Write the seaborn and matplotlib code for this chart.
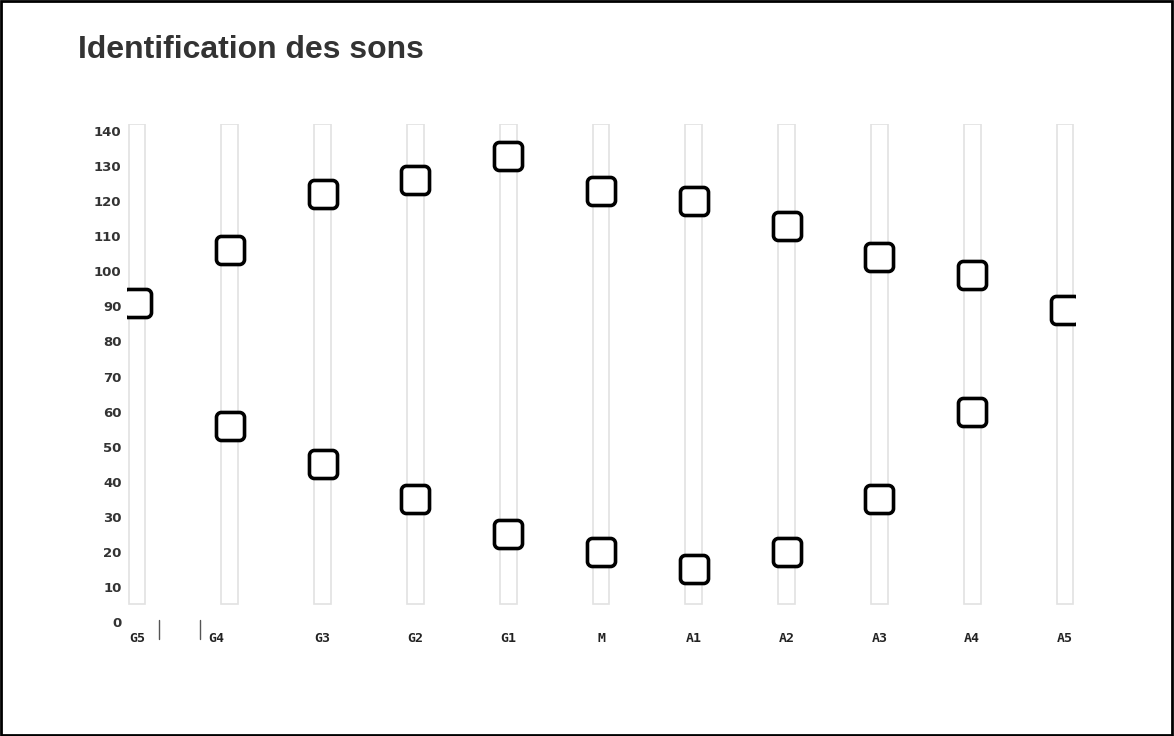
import numpy as np
import pandas as pd
import matplotlib
matplotlib.use("Agg")
import matplotlib.pyplot as plt
import seaborn as sns
from matplotlib.path import Path
from matplotlib.lines import Line2D
from matplotlib.patches import Rectangle
from matplotlib.transforms import ScaledTranslation

# data
categories = ['G5', 'G4', 'G3', 'G2', 'G1', 'M', 'A1', 'A2', 'A3', 'A4', 'A5']
upper = [91, 106, 122, 126, 133, 123, 120, 113, 104, 99, 89]
lower = [np.nan, 56, 45, 35, 25, 20, 15, 20, 35, 60, np.nan]
track_low = 5
track_high = 142
y_ticks = list(range(0, 141, 10))


def rounded_square(r=0.35):
    # square from -1..1 with rounded corners (cubic bezier)
    k = 0.5523 * r
    verts = [
        (-1 + r, -1), (1 - r, -1),
        (1 - r + k, -1), (1, -1 + r - k), (1, -1 + r),
        (1, 1 - r),
        (1, 1 - r + k), (1 - r + k, 1), (1 - r, 1),
        (-1 + r, 1),
        (-1 + r - k, 1), (-1, 1 - r + k), (-1, 1 - r),
        (-1, -1 + r),
        (-1, -1 + r - k), (-1 + r - k, -1), (-1 + r, -1),
        (-1 + r, -1),
    ]
    codes = [Path.MOVETO, Path.LINETO,
             Path.CURVE4, Path.CURVE4, Path.CURVE4,
             Path.LINETO,
             Path.CURVE4, Path.CURVE4, Path.CURVE4,
             Path.LINETO,
             Path.CURVE4, Path.CURVE4, Path.CURVE4,
             Path.LINETO,
             Path.CURVE4, Path.CURVE4, Path.CURVE4,
             Path.CLOSEPOLY]
    return Path(verts, codes)


df = pd.DataFrame({
    'cat': categories + categories,
    'val': upper + lower,
    'serie': ['haut'] * len(categories) + ['bas'] * len(categories),
})

sns.set_style("white")
fig = plt.figure(figsize=(11.74, 7.36), dpi=100)
ax = fig.add_axes([127 / 1174, 1 - 622 / 736, (1075 - 127) / 1174, (622 - 124) / 736])

# light tracks behind the markers
ax.bar(categories, [track_high - track_low] * len(categories), bottom=track_low,
       width=0.18, color='white', edgecolor='#e2e2e2', linewidth=1.2, zorder=1)

sns.scatterplot(data=df.dropna(), x='cat', y='val', ax=ax, marker=rounded_square(),
                s=28 ** 2 * 0.52, color='white', edgecolor='black', linewidth=2.6,
                legend=False, zorder=3)

ax.set_xlim(-0.108, len(categories) - 1 + 0.108)
ax.set_ylim(0, 142)
ax.set_yticks(y_ticks)
ax.set_yticklabels([str(t) for t in y_ticks], fontsize=9.5, fontweight='bold',
                   color='#333333', family='DejaVu Sans')
ax.set_xticks(range(len(categories)))
ax.set_xticklabels(categories, fontsize=9.5, fontweight='bold',
                   family='DejaVu Sans Mono', color='#222222')
ax.tick_params(axis='both', length=0)
ax.tick_params(axis='x', pad=7)
ax.tick_params(axis='y', pad=4)
ax.set_xlabel('')
ax.set_ylabel('')
sns.despine(ax=ax, left=True, bottom=True)
ax.grid(False)

# G4 label sits a bit to the left of its track
lab = ax.get_xticklabels()[1]
lab.set_transform(lab.get_transform() + ScaledTranslation(-0.14, 0, fig.dpi_scale_trans))

# two small separators under the axis
for px in (159, 200):
    fig.add_artist(Line2D([px / 1174, px / 1174], [1 - 620 / 736, 1 - 639 / 736],
                          color='#555555', lw=1))

fig.text(78 / 1174, 1 - 50 / 736, 'Identification des sons', fontsize=23,
         fontweight='bold', color='#333333', family='Liberation Sans', va='center')

fig.add_artist(Rectangle((0.001, 0.002), 0.997, 0.996, transform=fig.transFigure,
                         fill=False, edgecolor='black', lw=2))

fig.savefig('out.png', dpi=100)
